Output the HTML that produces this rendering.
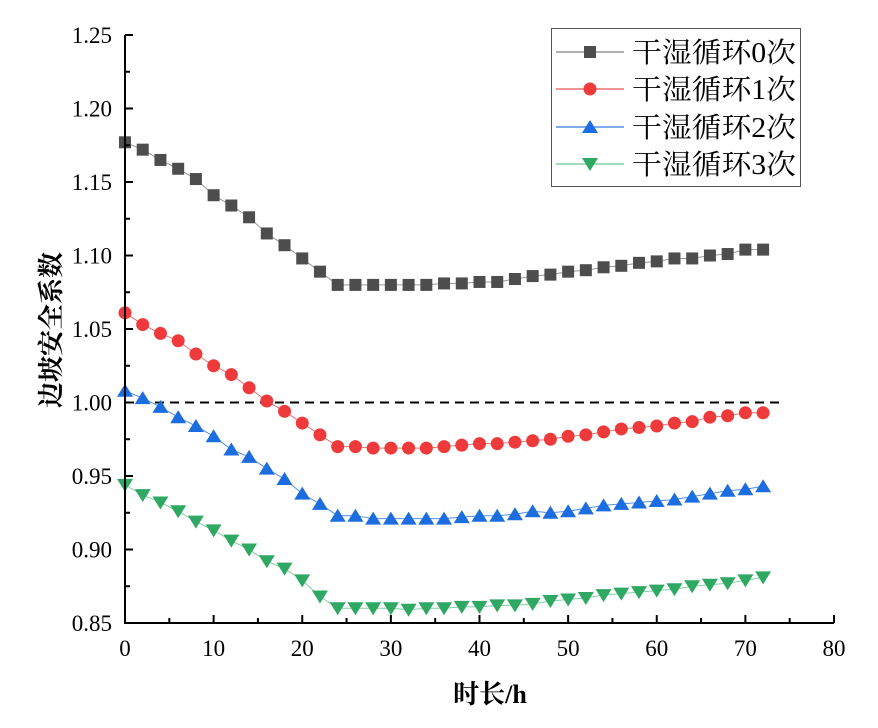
<!DOCTYPE html>
<html><head><meta charset="utf-8"><style>body{margin:0;background:#fff}svg{display:block}</style></head>
<body>
<svg id="s" width="878" height="728" xmlns="http://www.w3.org/2000/svg" font-family="'Liberation Serif','Noto Serif CJK SC',serif"></svg>
<script>
const s=document.getElementById('s');
const X=v=>125+v*(834-125)/80, Y=v=>623-(v-0.85)*(588/0.4);
let h='';
const d=[
[1.177,1.172,1.165,1.159,1.152,1.141,1.134,1.126,1.115,1.107,1.098,1.089,1.080,1.080,1.080,1.080,1.080,1.080,1.081,1.081,1.082,1.082,1.084,1.086,1.087,1.089,1.090,1.092,1.093,1.095,1.096,1.098,1.098,1.100,1.101,1.104,1.104],
[1.061,1.053,1.047,1.042,1.033,1.025,1.019,1.010,1.001,0.994,0.986,0.978,0.970,0.970,0.969,0.969,0.969,0.969,0.970,0.971,0.972,0.972,0.973,0.974,0.975,0.977,0.978,0.980,0.982,0.983,0.984,0.986,0.987,0.990,0.991,0.993,0.993],
[1.008,1.003,0.997,0.990,0.984,0.977,0.968,0.963,0.955,0.948,0.938,0.931,0.923,0.923,0.921,0.921,0.921,0.921,0.921,0.922,0.923,0.923,0.924,0.926,0.925,0.926,0.928,0.930,0.931,0.932,0.933,0.934,0.936,0.938,0.940,0.941,0.943],
[0.944,0.937,0.932,0.926,0.919,0.913,0.906,0.900,0.892,0.887,0.879,0.868,0.860,0.860,0.860,0.860,0.859,0.860,0.860,0.861,0.861,0.862,0.862,0.863,0.865,0.866,0.867,0.869,0.870,0.871,0.872,0.873,0.875,0.876,0.877,0.879,0.881]];
const col=['#4d4d4d','#ee3a3a','#1c6de0','#2ea862'],lc=['#999','#f07070','#5590e8','#80d0a0'];
function mk(t,x,y,c){
 if(t==0)return `<rect x="${x-6}" y="${y-6}" width="12" height="12" fill="${c}"/>`;
 if(t==1)return `<circle cx="${x}" cy="${y}" r="6.5" fill="${c}"/>`;
 if(t==2)return `<polygon points="${x},${y-7} ${x-8},${y+6} ${x+8},${y+6}" fill="${c}"/>`;
 return `<polygon points="${x},${y+7} ${x-8},${y-6} ${x+8},${y-6}" fill="${c}"/>`;}
h+=`<line x1="125" y1="${Y(1)}" x2="783" y2="${Y(1)}" stroke="#000" stroke-width="2" stroke-dasharray="9,6"/>`;
d.forEach((a,i)=>{h+=`<polyline fill="none" stroke="${lc[i]}" stroke-width="1" points="${a.map((v,j)=>X(j*2)+','+Y(v)).join(' ')}"/>`;
 a.forEach((v,j)=>{if(j*2<=72)h+=mk(i,X(j*2),Y(v),col[i]);});});
h+=`<path d="M125,35 V623 H834" fill="none" stroke="#000" stroke-width="2"/>`;
for(let k=0;k<=8;k++){const v=0.85+k*0.05,y=Y(v);h+=`<line x1="125" y1="${y}" x2="133" y2="${y}" stroke="#000" stroke-width="2"/>`;
 if(k<8)h+=`<line x1="125" y1="${Y(v+0.025)}" x2="130" y2="${Y(v+0.025)}" stroke="#000" stroke-width="2"/>`;
 h+=`<text x="112" y="${y+8}" font-size="23" text-anchor="end">${v.toFixed(2)}</text>`;}
for(let k=0;k<=8;k++){const x=X(k*10);h+=`<line x1="${x}" y1="623" x2="${x}" y2="615" stroke="#000" stroke-width="2"/>`;
 if(k<8)h+=`<line x1="${X(k*10+5)}" y1="623" x2="${X(k*10+5)}" y2="618" stroke="#000" stroke-width="2"/>`;
 h+=`<text x="${x}" y="656" font-size="23" text-anchor="middle">${k*10}</text>`;}
h+=`<text x="490" y="703" font-size="26" font-weight="bold" text-anchor="middle">时长/h</text>`;
h+=`<text transform="translate(60,330) rotate(-90)" font-size="26" font-weight="bold" text-anchor="middle">边坡安全系数</text>`;
h+=`<rect x="551.5" y="28.5" width="249" height="158" fill="#fff" stroke="#555" stroke-width="1"/>`;
const ly=[52,89,127,164];
ly.forEach((y,i)=>{h+=`<line x1="556" y1="${y}" x2="624" y2="${y}" stroke="${lc[i]}" stroke-width="1.5"/>`+mk(i,590,y,col[i])+
 `<text x="632" y="${y+10}" font-size="28" textLength="164" lengthAdjust="spacingAndGlyphs">干湿循环${i}次</text>`;});
s.innerHTML=h;
</script>
</body></html>
